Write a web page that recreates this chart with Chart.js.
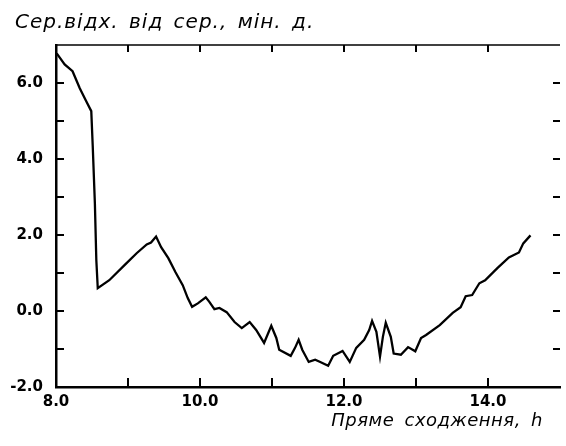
<!DOCTYPE html>
<html lang="uk">
<head>
<meta charset="UTF-8">
<title>Сер. відх. від сер.</title>
<script src="https://cdn.jsdelivr.net/npm/chart.js"></script>
<style>
  body { margin: 0; background: #fff; }
  #wrap { width: 566px; height: 446px; }
</style>
</head>
<body>
<div id="wrap"><canvas id="grafik" width="566" height="446"></canvas></div>
<script>
// пряме сходження, h
const xVals = [8.01, 8.12, 8.23, 8.33, 8.42, 8.49, 8.51, 8.54, 8.56, 8.58,
  8.74, 8.98, 9.12, 9.26, 9.32, 9.39, 9.46, 9.56, 9.66, 9.76,
  9.83, 9.89, 9.97, 10.08, 10.13, 10.2, 10.27, 10.37, 10.48, 10.58,
  10.69, 10.78, 10.89, 10.99, 11.06, 11.1, 11.26, 11.32, 11.37, 11.42,
  11.51, 11.6, 11.67, 11.78, 11.85, 11.98, 12.08, 12.17, 12.28, 12.35,
  12.39, 12.45, 12.5, 12.54, 12.58, 12.65, 12.69, 12.79, 12.89, 12.99,
  13.07, 13.14, 13.33, 13.51, 13.62, 13.69, 13.78, 13.88, 13.96, 14.13,
  14.29, 14.43, 14.49, 14.59];
// сер. відхилення, мін. д.
const yVals = [6.78, 6.49, 6.31, 5.86, 5.52, 5.26, 4.35, 2.83, 1.34, 0.6,
  0.81, 1.26, 1.52, 1.75, 1.8, 1.96, 1.68, 1.39, 1.02, 0.68,
  0.34, 0.11, 0.2, 0.36, 0.24, 0.05, 0.08, -0.03, -0.29, -0.45,
  -0.29, -0.5, -0.84, -0.39, -0.71, -1.02, -1.18, -0.97, -0.76, -1.02,
  -1.34, -1.28, -1.34, -1.44, -1.18, -1.05, -1.34, -0.97, -0.76, -0.5,
  -0.26, -0.55, -1.2, -0.68, -0.31, -0.68, -1.12, -1.15, -0.95, -1.06,
  -0.71, -0.63, -0.37, -0.05, 0.1, 0.39, 0.42, 0.73, 0.81, 1.13,
  1.41, 1.54, 1.78, 1.99];

const xTicks = [8, 9, 10, 11, 12, 13, 14, 15];
const yTicks = [-2, -1, 0, 1, 2, 3, 4, 5, 6, 7];
const xLabels = [8, 10, 12, 14];
const yLabels = [-2, 0, 2, 4, 6];

const titleY = 'Сер.відх. від сер., мін. д.';
const titleX = 'Пряме сходження, h';

const tickFont = { family: '"DejaVu Sans"', size: 15, weight: 'bold' };

// засічки всередину рамки і підписи осей
const ramka = {
  id: 'ramka',
  afterDraw(chart) {
    const { ctx, chartArea: a, scales } = chart;
    ctx.save();
    ctx.strokeStyle = '#000';
    ctx.lineWidth = 2;
    yTicks.forEach(v => {
      if (v === -2 || v === 7) return;
      const py = scales.y.getPixelForValue(v);
      ctx.beginPath();
      ctx.moveTo(a.left, py); ctx.lineTo(a.left + 8, py);
      ctx.moveTo(a.right - 7, py); ctx.lineTo(a.right, py);
      ctx.stroke();
    });
    xTicks.forEach(v => {
      if (v === 8 || v === 15) return;
      const px = scales.x.getPixelForValue(v);
      ctx.beginPath();
      ctx.moveTo(px, a.bottom); ctx.lineTo(px, a.bottom - 9);
      ctx.moveTo(px, a.top); ctx.lineTo(px, a.top + 7);
      ctx.stroke();
    });
    ctx.lineWidth = 1.5;
    ctx.beginPath();
    ctx.moveTo(a.left, a.top); ctx.lineTo(a.right, a.top);
    ctx.stroke();

    ctx.fillStyle = '#000';
    ctx.textBaseline = 'alphabetic';
    ctx.font = 'italic 20px "DejaVu Sans"';
    ctx.letterSpacing = '1px';
    ctx.wordSpacing = '3px';
    ctx.textAlign = 'left';
    ctx.fillText(titleY, 15, 28);
    ctx.font = 'italic 18px "DejaVu Sans"';
    ctx.letterSpacing = '0.5px';
    ctx.wordSpacing = '4px';
    ctx.textAlign = 'right';
    ctx.fillText(titleX, 543, 426);
    ctx.restore();
  }
};

new Chart(document.getElementById('grafik'), {
  type: 'line',
  data: {
    datasets: [{
      data: xVals.map((x, i) => ({ x: x, y: yVals[i] })),
      borderColor: '#000',
      borderWidth: 2.3,
      pointRadius: 0,
      tension: 0,
      fill: false
    }]
  },
  options: {
    responsive: false,
    animation: false,
    layout: { padding: { top: 45, left: 0, right: 0, bottom: 0 } },
    plugins: { legend: { display: false }, tooltip: { enabled: false } },
    scales: {
      x: {
        type: 'linear', min: 8, max: 15,
        grid: { display: false, drawTicks: false },
        border: { display: true, color: '#000', width: 2.5 },
        ticks: {
          stepSize: 1, autoSkip: false, maxRotation: 0, padding: 6,
          color: '#000', font: tickFont,
          callback: v => xLabels.includes(v) ? v.toFixed(1) : ''
        },
        afterFit: s => { s.height = 59; }
      },
      y: {
        min: -2, max: 7,
        grid: { display: false, drawTicks: false },
        border: { display: true, color: '#000', width: 2.5 },
        ticks: {
          stepSize: 1, autoSkip: false, padding: 13,
          color: '#000', font: tickFont,
          callback: v => yLabels.includes(v) ? v.toFixed(1) : ''
        },
        afterFit: s => { s.width = 56; }
      }
    }
  },
  plugins: [ramka]
});
</script>
</body>
</html>
